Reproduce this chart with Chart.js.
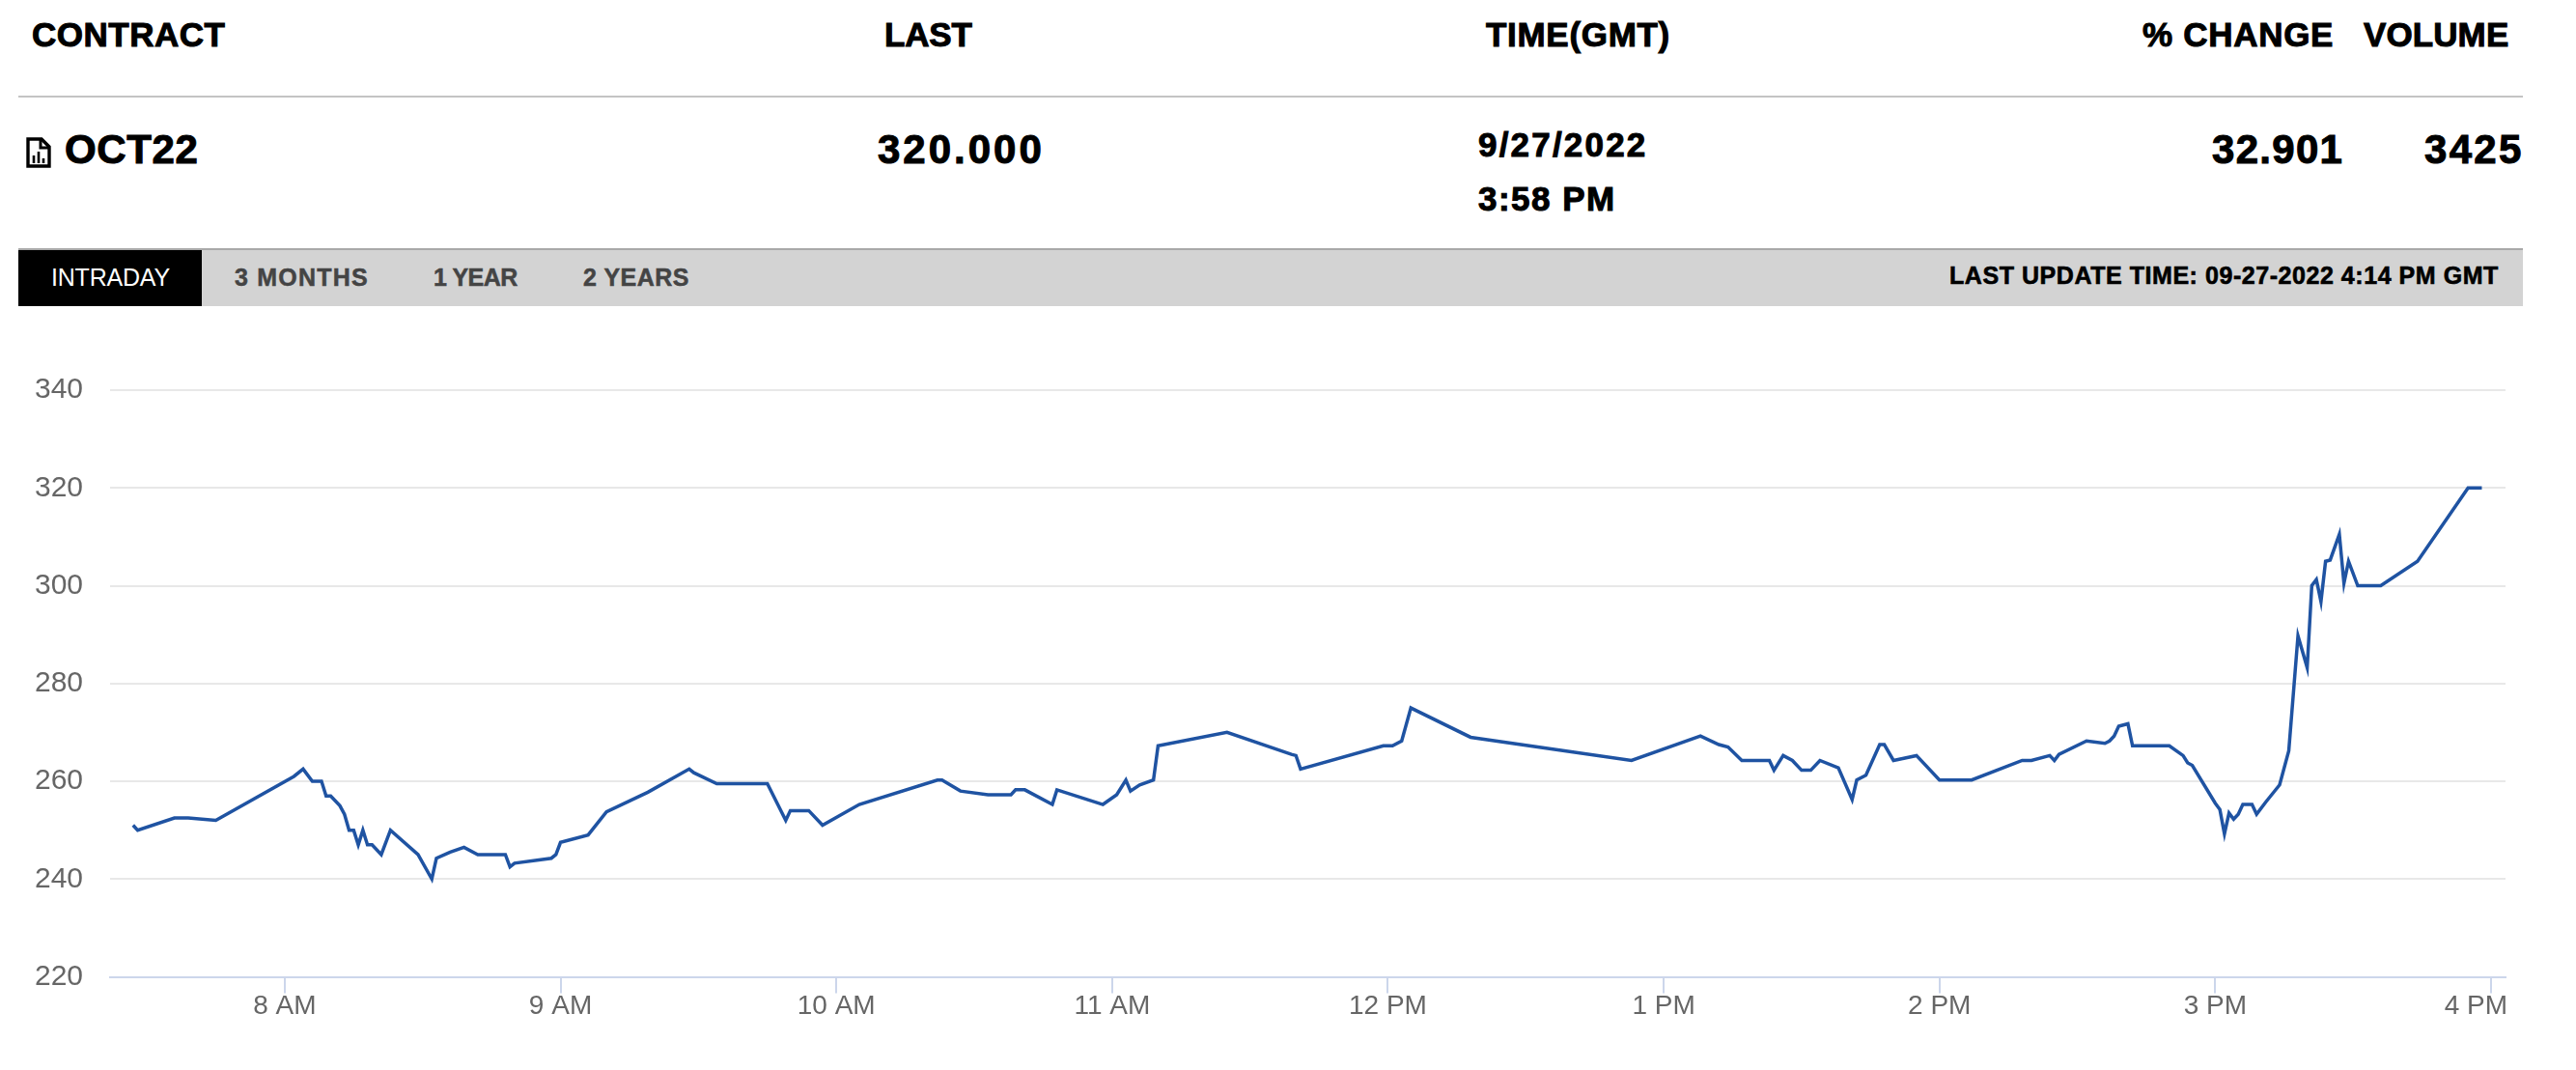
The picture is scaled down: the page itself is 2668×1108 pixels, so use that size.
<!DOCTYPE html>
<html>
<head>
<meta charset="utf-8">
<title>OCT22 intraday</title>
<script src="https://cdn.jsdelivr.net/npm/chart.js@4"></script>
<style>
  html, body { margin: 0; padding: 0; background: #fff; }
  body { width: 2668px; height: 1108px; position: relative; overflow: hidden; font-family: "Liberation Sans", sans-serif; color: #000; }
  .cell { position: absolute; white-space: nowrap; font-weight: 700; line-height: 1; -webkit-text-stroke: 1px currentColor; }
  .head { font-size: 35px; top: 18px; }
  .big { font-size: 42px; top: 134px; }
  .mid { font-size: 35px; }
  .rule { position: absolute; left: 19px; width: 2594px; top: 99px; height: 2px; background: #c4c4c4; }
  .bar { position: absolute; left: 19px; width: 2594px; top: 257px; height: 58px; background: #d3d3d3; border-top: 2px solid #a9a9a9; }
  .tab-on { position: absolute; left: 19px; top: 259px; width: 190px; height: 58px; background: #000; }
  .tab { font-size: 25px; top: 275px; color: #444; -webkit-text-stroke: 0.5px currentColor; }
  #icon { position: absolute; left: 27px; top: 142px; }
  #priceChart { position: absolute; left: 0; top: 340px; }
</style>
</head>
<body>
  <div class="cell head" style="left:33px;letter-spacing:.5px">CONTRACT</div>
  <div class="cell head" style="left:916px;letter-spacing:-.2px">LAST</div>
  <div class="cell head" style="left:1539px;letter-spacing:.7px">TIME(GMT)</div>
  <div class="cell head" style="left:2219px;letter-spacing:.7px">% CHANGE</div>
  <div class="cell head" style="left:2448px;letter-spacing:.1px">VOLUME</div>
  <div class="rule"></div>

  <svg id="icon" width="26" height="32" viewBox="0 0 26 32">
    <path d="M2 2h14l8 8v20H2z" fill="none" stroke="#000" stroke-width="3.4"/>
    <path d="M15 2v9h9" fill="none" stroke="#000" stroke-width="3"/>
    <path d="M8 27v-8M13 27v-12M18 27v-5" stroke="#000" stroke-width="2.6"/>
  </svg>
  <div class="cell big" style="left:67px;letter-spacing:.6px">OCT22</div>
  <div class="cell big" style="left:909px;letter-spacing:3px">320.000</div>
  <div class="cell mid" style="left:1531px;top:132px;letter-spacing:2.2px">9/27/2022</div>
  <div class="cell mid" style="left:1531px;top:188px;letter-spacing:1.5px">3:58 PM</div>
  <div class="cell big" style="left:2291px;letter-spacing:1.3px">32.901</div>
  <div class="cell big" style="left:2511px;letter-spacing:2.3px">3425</div>

  <div class="bar"></div>
  <div class="tab-on"></div>
  <div class="cell tab" style="left:53px;color:#fff;font-weight:400;letter-spacing:-.2px;-webkit-text-stroke:0">INTRADAY</div>
  <div class="cell tab" style="left:243px;letter-spacing:1.2px">3 MONTHS</div>
  <div class="cell tab" style="left:449px;letter-spacing:-.5px">1 YEAR</div>
  <div class="cell tab" style="left:604px;letter-spacing:.5px">2 YEARS</div>
  <div class="cell" style="left:2019px;top:273px;font-size:25px;letter-spacing:.55px;-webkit-text-stroke:.6px #000">LAST UPDATE TIME: 09-27-2022 4:14 PM GMT</div>

  <canvas id="priceChart" width="2668" height="768"></canvas>

<script>
// trade times in minutes after midnight GMT
const tradeMinutes = [
  447, 448, 456, 459, 465, 482, 484, 486, 488, 489, 490, 492, 493, 494, 495, 496, 497, 498, 499,
  501, 503, 509, 512, 513, 516, 519, 522, 528, 529, 530, 538, 539, 540, 546, 550, 559, 568, 569,
  574, 585, 589, 590, 594, 597, 605, 622, 623, 627, 633, 638, 639, 641, 647, 648, 658, 661, 663,
  664, 666, 669, 670, 685, 699, 700, 701, 719, 721, 723, 725, 738, 773, 788, 792, 794, 797, 803,
  804, 806, 808, 810, 812, 814, 818, 821, 822, 824, 827, 828, 830, 835, 840, 847, 858, 860, 864,
  865, 866, 872, 876, 877, 878, 879, 881, 882, 890, 893, 894, 895, 900, 901, 902, 903, 904, 905,
  906, 908, 909, 911, 914, 916, 918, 920, 921, 922, 923, 924, 925, 927, 928, 929, 931, 936, 944,
  955, 958
];
const lastPrices = [
  251, 250, 252.5, 252.5, 252, 261, 262.5, 260, 260, 257, 257, 255, 253.25, 250, 250, 247, 250, 247, 247,
  245, 250, 245, 240, 244.25, 245.5, 246.5, 245, 245, 242.5, 243.25, 244.25, 245, 247.5, 249, 253.75, 257.75, 262.5, 261.75,
  259.5, 259.5, 252, 254, 254, 251, 255.25, 260.25, 260.25, 258, 257.25, 257.25, 258.25, 258.25, 255.25, 258.25, 255.25, 257.25, 260.25,
  258, 259.25, 260.25, 267.25, 270, 265.5, 265.25, 262.5, 267.25, 267.25, 268.25, 275, 269, 264.25, 269.25, 267.5, 267, 264.25, 264.25,
  262.25, 265.25, 264.25, 262.25, 262.25, 264.25, 262.75, 256.25, 260.25, 261.25, 267.5, 267.5, 264.25, 265.25, 260.25, 260.25, 264.25, 264.25, 265.25,
  264.25, 265.5, 268.25, 267.75, 268.25, 269.25, 271.25, 271.75, 267.25, 267.25, 265.25, 263.75, 263.25, 255.5, 254.25, 249.25, 253.5, 252.25, 253.25,
  255.25, 255.25, 253.25, 255.75, 259.25, 266.25, 289.75, 283.25, 300, 301.25, 296.75, 305, 305.25, 310.5, 300.5, 305, 300, 300, 305,
  320, 320
];
const hourTicks = [480, 540, 600, 660, 720, 780, 840, 900, 960];
const hourLabels = ['8 AM', '9 AM', '10 AM', '11 AM', '12 PM', '1 PM', '2 PM', '3 PM', '4 PM'];
const priceTicks = [220, 240, 260, 280, 300, 320, 340];

const fontFamily = '"Liberation Sans", sans-serif';
const axisColor = '#ccd6eb';

new Chart(document.getElementById('priceChart').getContext('2d'), {
  type: 'line',
  data: {
    datasets: [{
      data: tradeMinutes.map((m, i) => ({ x: m, y: lastPrices[i] })),
      borderColor: '#1f53a2',
      borderWidth: 3.5,
      pointRadius: 0,
      tension: 0,
      fill: false
    }]
  },
  options: {
    responsive: false,
    animation: false,
    layout: { padding: { top: 64, right: 73, bottom: 36.5, left: 0 } },
    plugins: { legend: { display: false }, tooltip: { enabled: false } },
    scales: {
      x: {
        type: 'linear',
        min: 442,
        max: 963.15,
        afterBuildTicks: (scale) => { scale.ticks = hourTicks.map((v) => ({ value: v })); },
        afterFit: (scale) => { scale.height = 60; },
        border: { color: axisColor, width: 2 },
        grid: { drawOnChartArea: false, color: axisColor, lineWidth: 2, tickLength: 17 },
        ticks: {
          autoSkip: false,
          maxRotation: 0,
          padding: -3,
          color: '#666',
          font: { family: fontFamily, size: 28 },
          // trailing spaces pull the last label back inside the plot edge
          callback: (value) => {
            const label = hourLabels[hourTicks.indexOf(value)];
            return value === 960 ? label + '    ' : label;
          }
        }
      },
      y: {
        min: 220,
        max: 340,
        afterBuildTicks: (scale) => { scale.ticks = priceTicks.map((v) => ({ value: v })); },
        afterFit: (scale) => { scale.width = 114; },
        border: { display: false },
        grid: { color: '#e8e8e8', lineWidth: 2, drawTicks: false },
        ticks: { padding: 28, color: '#666', font: { family: fontFamily, size: 30 } }
      }
    }
  }
});
</script>
</body>
</html>
